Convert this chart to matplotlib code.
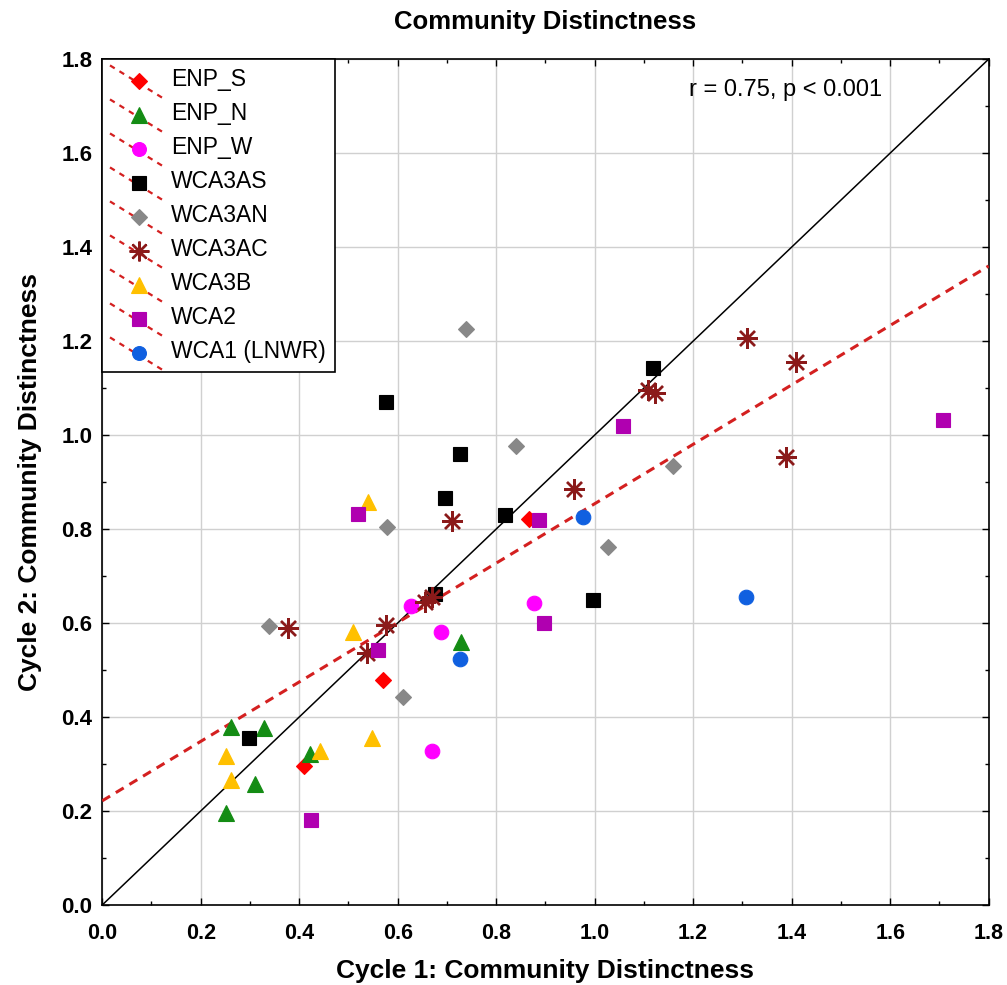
import numpy as np
import matplotlib
matplotlib.use("Agg")
import matplotlib.pyplot as plt
from matplotlib.lines import Line2D
from matplotlib.legend_handler import HandlerBase

plt.rcParams['font.family'] = ['Liberation Sans', 'DejaVu Sans']

groups = ["ENP_S", "ENP_N", "ENP_W", "WCA3AS", "WCA3AN", "WCA3AC", "WCA3B", "WCA2", "WCA1 (LNWR)"]

enp_s_x = [0.867, 0.571, 0.410]
enp_s_y = [0.821, 0.479, 0.296]
enp_n_x = [0.261, 0.329, 0.422, 0.311, 0.251, 0.729]
enp_n_y = [0.379, 0.377, 0.321, 0.257, 0.196, 0.560]
enp_w_x = [0.626, 0.688, 0.877, 0.669]
enp_w_y = [0.636, 0.581, 0.642, 0.328]
wca3as_x = [0.298, 0.676, 0.818, 0.697, 0.727, 0.576, 1.118, 0.997]
wca3as_y = [0.356, 0.662, 0.829, 0.867, 0.959, 1.071, 1.143, 0.649]
wca3an_x = [0.339, 0.578, 0.610, 0.739, 0.840, 1.027, 1.160]
wca3an_y = [0.594, 0.805, 0.443, 1.226, 0.977, 0.761, 0.935]
wca3ac_x = [0.378, 0.537, 0.576, 0.655, 0.670, 0.710, 0.959, 1.109, 1.122, 1.309, 1.388, 1.409]
wca3ac_y = [0.590, 0.536, 0.596, 0.645, 0.655, 0.818, 0.885, 1.096, 1.089, 1.207, 0.954, 1.155]
wca3b_x = [0.251, 0.261, 0.442, 0.548, 0.510, 0.540]
wca3b_y = [0.318, 0.266, 0.328, 0.355, 0.581, 0.858]
wca2_x = [0.424, 0.561, 0.519, 0.898, 0.886, 1.057, 1.708]
wca2_y = [0.181, 0.543, 0.832, 0.601, 0.819, 1.020, 1.032]
wca1_x = [0.727, 0.976, 1.307]
wca1_y = [0.523, 0.825, 0.655]

series_x = [enp_s_x, enp_n_x, enp_w_x, wca3as_x, wca3an_x, wca3ac_x, wca3b_x, wca2_x, wca1_x]
series_y = [enp_s_y, enp_n_y, enp_w_y, wca3as_y, wca3an_y, wca3ac_y, wca3b_y, wca2_y, wca1_y]

stat_text = "r = 0.75, p < 0.001"
ticks = [0.0, 0.2, 0.4, 0.6, 0.8, 1.0, 1.2, 1.4, 1.6, 1.8]

styles = [
    dict(marker='D', color='#FF0000', ms=8.5),
    dict(marker='^', color='#148C14', ms=12),
    dict(marker='o', color='#FF00FF', ms=10.5),
    dict(marker='s', color='#000000', ms=10),
    dict(marker='D', color='#888888', ms=8.5),
    dict(marker=(8, 2, 0), color='#8B1A1A', ms=15),
    dict(marker='^', color='#FFC000', ms=12),
    dict(marker='s', color='#B000B0', ms=10),
    dict(marker='o', color='#1060E0', ms=10.5),
]

fig = plt.figure(figsize=(10.07, 9.85), dpi=100)
ax = fig.add_axes([0.1015, 0.0812, 0.8803, 0.8588])

handles = []
for name, xs, ys, st in zip(groups, series_x, series_y, styles):
    mew = 1.7 if st['marker'] == (8, 2, 0) else 0.8
    h, = ax.plot(xs, ys, linestyle='none', marker=st['marker'], color=st['color'],
                 markersize=st['ms'], markeredgecolor=st['color'], markeredgewidth=mew,
                 label=name, zorder=4)
    handles.append(h)

# identity line
ax.plot([0, 1.8], [0, 1.8], color='black', lw=1.1, zorder=3)

# regression line fitted from the data
all_x = np.concatenate([np.asarray(v) for v in series_x])
all_y = np.concatenate([np.asarray(v) for v in series_y])
slope, intercept = np.polyfit(all_x, all_y, 1)
xx = np.array([0.0, 1.8])
ax.plot(xx, intercept + slope * xx, color='#D42020', lw=2.2, ls=(0, (3, 2.2)), zorder=3)

ax.set_xlim(0, 1.8)
ax.set_ylim(0, 1.8)
ax.set_xticks(ticks)
ax.set_yticks(ticks)
ax.set_xticklabels([f"{t:.1f}" for t in ticks])
ax.set_yticklabels([f"{t:.1f}" for t in ticks])
ax.set_xticks(np.arange(0.1, 1.8, 0.2), minor=True)
ax.set_yticks(np.arange(0.1, 1.8, 0.2), minor=True)
ax.tick_params(which='both', direction='in', top=True, right=True, width=1)
ax.tick_params(which='major', length=5)
ax.tick_params(which='minor', length=3)
ax.tick_params(axis='x', which='major', labelsize=15.5, pad=13)
ax.tick_params(axis='y', which='major', labelsize=16, pad=7)
for lab in ax.get_xticklabels() + ax.get_yticklabels():
    lab.set_fontweight('bold')
ax.grid(True, which='major', color='#D0D0D0', lw=1)
ax.set_axisbelow(True)
for s in ax.spines.values():
    s.set_linewidth(1.2)

ax.set_xlabel("Cycle 1: Community Distinctness", fontsize=19, fontweight='bold', labelpad=11)
ax.set_ylabel("Cycle 2: Community Distinctness", fontsize=19, fontweight='bold', labelpad=14)
ax.set_title("Community Distinctness", fontsize=18.5, fontweight='bold', pad=22)

ax.text(0.88, 0.963, stat_text, transform=ax.transAxes, ha='right', va='center', fontsize=17)


class DiagHandler(HandlerBase):
    def create_artists(self, legend, orig_handle, xdescent, ydescent, width, height, fontsize, trans):
        ln = Line2D([-xdescent - 1, width + 1], [height * 1.3, -height * 0.75],
                    color='#D42020', lw=1.6, ls=(0, (2.5, 2.5)), transform=trans)
        mk = Line2D([width * 0.55], [height * 0.35], marker=orig_handle.get_marker(),
                    color=orig_handle.get_color(), markersize=orig_handle.get_markersize() * 0.95,
                    markeredgewidth=orig_handle.get_markeredgewidth(), linestyle='none', transform=trans)
        return [ln, mk]


leg = ax.legend(handles=handles, loc='upper left', bbox_to_anchor=(0, 1), borderaxespad=0,
                fancybox=False, edgecolor='black', framealpha=1, fontsize=16.5,
                handler_map={Line2D: DiagHandler()}, handlelength=2.2, handletextpad=0.4,
                labelspacing=0.48, borderpad=0.4)
leg.get_frame().set_linewidth(1.2)
leg.set_zorder(5)

fig.savefig("out.png", dpi=100)
